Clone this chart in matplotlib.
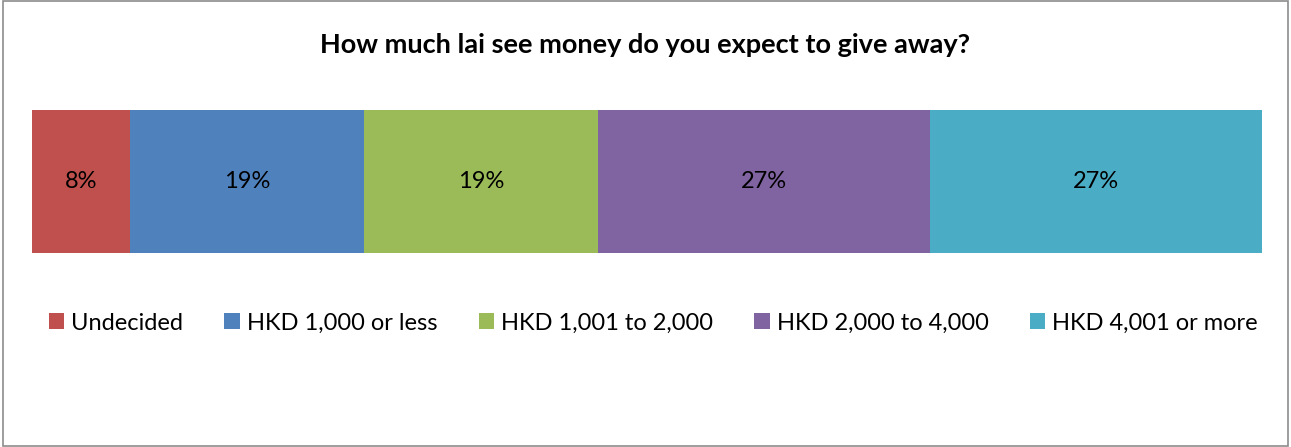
import matplotlib
matplotlib.use("Agg")
import matplotlib.pyplot as plt
from matplotlib.patches import Rectangle

plt.rcParams['font.family'] = ['Lato', 'DejaVu Sans']

categories = ["Undecided", "HKD 1,000 or less", "HKD 1,001 to 2,000",
              "HKD 2,000 to 4,000", "HKD 4,001 or more"]
shares = [8, 19, 19, 27, 27]
colors = ["#C0504D", "#4F81BD", "#9BBB59", "#8064A2", "#4BACC6"]
title = "How much lai see money do you expect to give away?"

fig = plt.figure(figsize=(12.91, 4.47), dpi=100)
ax = fig.add_axes([32 / 1291, 1 - 253 / 447, 1230 / 1291, 143 / 447])

left = 0
for cat, val, col in zip(categories, shares, colors):
    ax.barh(0, val, left=left, height=1.0, color=col, label=cat)
    ax.text(left + val / 2, 0, f"{val}%", ha="center", va="center", fontsize=17)
    left += val

ax.set_xlim(0, sum(shares))
ax.set_ylim(-0.5, 0.5)
ax.axis("off")

fig.text(0.5, 1 - 45 / 447, title, ha="center", va="center",
         fontsize=19.5, fontweight="bold")

fig.legend(loc="center", bbox_to_anchor=(0.506, 1 - 323 / 447), ncol=5,
           frameon=False, fontsize=17, handlelength=0.65, handleheight=0.65,
           handletextpad=0.3, columnspacing=1.75)

# chart border like the spreadsheet frame
fig.patches.append(Rectangle((0.002, 0.003), 0.996, 0.994, transform=fig.transFigure,
                             fill=False, edgecolor="#8c8c8c", linewidth=1.2))

fig.savefig("out.png", dpi=100)
